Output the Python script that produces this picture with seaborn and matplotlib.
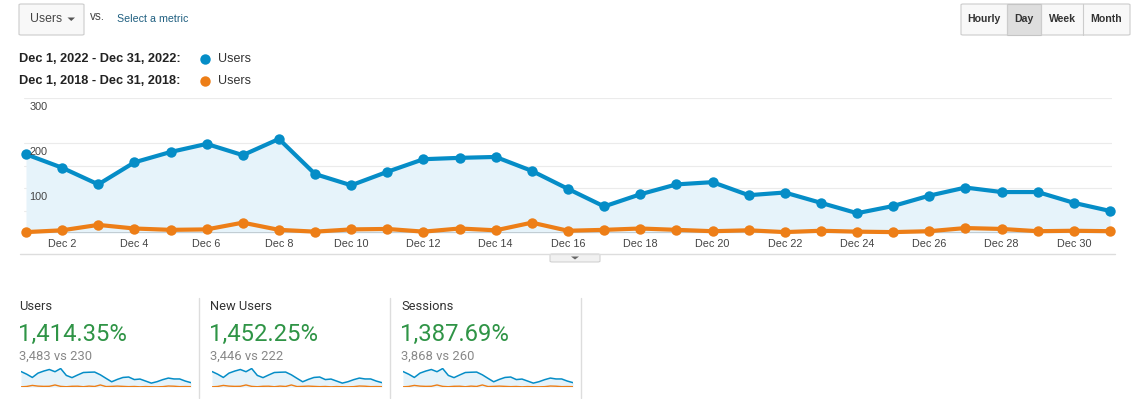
import matplotlib
matplotlib.use("Agg")
import matplotlib.pyplot as plt
import seaborn as sns
import numpy as np
import pandas as pd
from matplotlib.patches import FancyBboxPatch, Rectangle, Polygon
from matplotlib.lines import Line2D

# ---------------- data ----------------
days = list(range(1, 32))
users_2022 = [175, 145, 108, 157, 180, 198, 173, 209, 131, 106, 136, 164, 167, 169, 138,
              98, 59, 86, 108, 113, 84, 90, 67, 44, 60, 83, 101, 91, 91, 67, 49]
users_2018 = [2, 6, 18, 10, 7, 8, 23, 7, 3, 8, 9, 3, 10, 6, 23,
              5, 7, 10, 7, 4, 6, 2, 5, 3, 2, 4, 11, 9, 4, 5, 4]
tick_days = list(range(2, 31, 2))
tick_labels = [f"Dec {d}" for d in tick_days]
y_ticks = [100, 200, 300]

range_2022 = "Dec 1, 2022 - Dec 31, 2022:"
range_2018 = "Dec 1, 2018 - Dec 31, 2018:"
card_titles = ["Users", "New Users", "Sessions"]
card_pcts = ["1,414.35%", "1,452.25%", "1,387.69%"]
card_totals = ["3,483 vs 230", "3,446 vs 222", "3,868 vs 260"]
buttons = ["Hourly", "Day", "Week", "Month"]

BLUE = "#058dc7"
ORANGE = "#ed7e17"
FILL = "#e6f3fa"
GREEN = "#2f9446"

sns.set_theme(style="white")
plt.rcParams["font.family"] = ["Liberation Sans", "DejaVu Sans"]

W, H = 1135, 399
fig = plt.figure(figsize=(W / 100, H / 100), dpi=100)
fig.patch.set_facecolor("white")


def fx(x):
    return x / W


def fy(y):
    return 1 - y / H


df = pd.DataFrame({"day": days, "u22": users_2022, "u18": users_2018})

# ---------------- main chart ----------------
L, R, T, B = 24, 1112, 98, 233
ax = fig.add_axes([fx(L), fy(B), (R - L) / W, (B - T) / H])
step = (1110 - 26) / 30
ax.set_xlim(1 - (26 - L) / step, 31 + (R - 1110) / step)
ax.set_ylim(0, 300)
for g in [50, 100, 150, 200, 300]:
    ax.axhline(g, color="#ebebeb", lw=0.8, zorder=0)
ax.fill_between(df["day"], df["u22"], 0, color=FILL, lw=0, zorder=1)
ax.plot([1, 31], [0, 0], color="#333333", lw=1.0, zorder=2)
sns.lineplot(data=df, x="day", y="u18", ax=ax, color=ORANGE, lw=3, marker="o",
             markersize=7.5, markeredgewidth=0, clip_on=False, zorder=3)
sns.lineplot(data=df, x="day", y="u22", ax=ax, color=BLUE, lw=3, marker="o",
             markersize=7.5, markeredgewidth=0, clip_on=False, zorder=4)
ax.set_xticks(tick_days)
ax.set_xticklabels(tick_labels, fontsize=7.8, color="#444444")
ax.tick_params(axis="x", length=0, pad=4)
ax.set_yticks([])
ax.set_xlabel("")
ax.set_ylabel("")
for s in ax.spines.values():
    s.set_visible(False)
for v in y_ticks:
    ax.text(0.005, v - 20, str(v), transform=ax.get_yaxis_transform(),
            fontsize=7.8, color="#444444", va="center", ha="left", zorder=5)

# bottom line under chart and small tab
fig.add_artist(Line2D([fx(20), fx(1115)], [fy(254), fy(254)], color="#dddddd", lw=1))
fig.add_artist(FancyBboxPatch((fx(550), fy(262)), fx(50), 8 / H,
                              boxstyle="round,pad=0,rounding_size=0.002",
                              transform=fig.transFigure, fc="#f1f1f1", ec="#cccccc", lw=0.7))
fig.add_artist(Polygon([[fx(571), fy(256.5)], [fx(579), fy(256.5)], [fx(575), fy(259.5)]],
                       closed=True, transform=fig.transFigure, fc="#666666", ec="none"))

# ---------------- top controls ----------------
fig.add_artist(FancyBboxPatch((fx(19), fy(35)), fx(65), 31 / H,
                              boxstyle="round,pad=0,rounding_size=0.002",
                              transform=fig.transFigure, fc="#f8f8f8", ec="#cccccc", lw=0.8))
fig.text(fx(30), fy(19.5), "Users", fontsize=8.8, color="#444444", va="center", ha="left")
fig.add_artist(Polygon([[fx(67.5), fy(17.5)], [fx(75), fy(17.5)], [fx(71.25), fy(21)]],
                       closed=True, transform=fig.transFigure, fc="#555555", ec="none"))
fig.text(fx(90), fy(17.5), "vs.", fontsize=8.5, color="#444444", va="center", ha="left")
fig.text(fx(117), fy(19), "Select a metric", fontsize=7.7, color="#1f5f80", va="center", ha="left")

# buttons
bx = [961, 1007, 1041, 1083, 1130]
fig.add_artist(FancyBboxPatch((fx(961), fy(35)), fx(169), 31 / H,
                              boxstyle="round,pad=0,rounding_size=0.002",
                              transform=fig.transFigure, fc="#f8f8f8", ec="#cccccc", lw=0.8))
fig.add_artist(Rectangle((fx(1007), fy(35)), fx(34), 31 / H, transform=fig.transFigure,
                         fc="#dedede", ec="#c4c4c4", lw=0.8))
for i, lab in enumerate(buttons):
    if i > 0:
        fig.add_artist(Line2D([fx(bx[i]), fx(bx[i])], [fy(4), fy(35)], color="#cccccc", lw=0.8))
    fig.text(fx((bx[i] + bx[i + 1]) / 2), fy(19.5), lab, fontsize=7.6, color="#333333",
             ha="center", va="center", fontweight="bold")

# legend rows
for yy, lab, col in [(59, range_2022, BLUE), (81, range_2018, ORANGE)]:
    fig.text(fx(19), fy(yy), lab, fontsize=9.2, fontweight="bold", color="#222222",
             ha="left", va="center")
    fig.add_artist(Line2D([fx(205)], [fy(yy)], marker="o", markersize=7.5,
                          markeredgewidth=0, color=col, linestyle="none"))
    fig.text(fx(218), fy(yy), "Users", fontsize=9, color="#333333", ha="left", va="center")

# ---------------- scorecards ----------------
for i, x0 in enumerate([19, 210, 401]):
    fig.text(fx(x0), fy(307), card_titles[i], fontsize=9.3, color="#333333",
             ha="left", va="center", family=["Roboto", "DejaVu Sans"])
    fig.text(fx(x0 - 1), fy(334), card_pcts[i], fontsize=17.2, color=GREEN,
             ha="left", va="center", family=["Roboto", "DejaVu Sans"])
    fig.text(fx(x0), fy(356), card_totals[i], fontsize=9.4, color="#888888",
             ha="left", va="center", family=["Roboto", "DejaVu Sans"])
    sx = fig.add_axes([fx(x0 + 2), fy(387), fx(170), 19 / H])
    sx.fill_between(df["day"], df["u22"], 0, color=FILL, lw=0)
    sns.lineplot(data=df, x="day", y="u18", ax=sx, color=ORANGE, lw=1.0)
    sns.lineplot(data=df, x="day", y="u22", ax=sx, color=BLUE, lw=1.1)
    sx.set_xlim(1, 31)
    sx.set_ylim(0, 215)
    sx.axis("off")
    fig.add_artist(Line2D([fx(x0 + 180), fx(x0 + 180)], [fy(298), fy(398)],
                          color="#dddddd", lw=1))

fig.savefig("out.png", dpi=100, facecolor="white")
